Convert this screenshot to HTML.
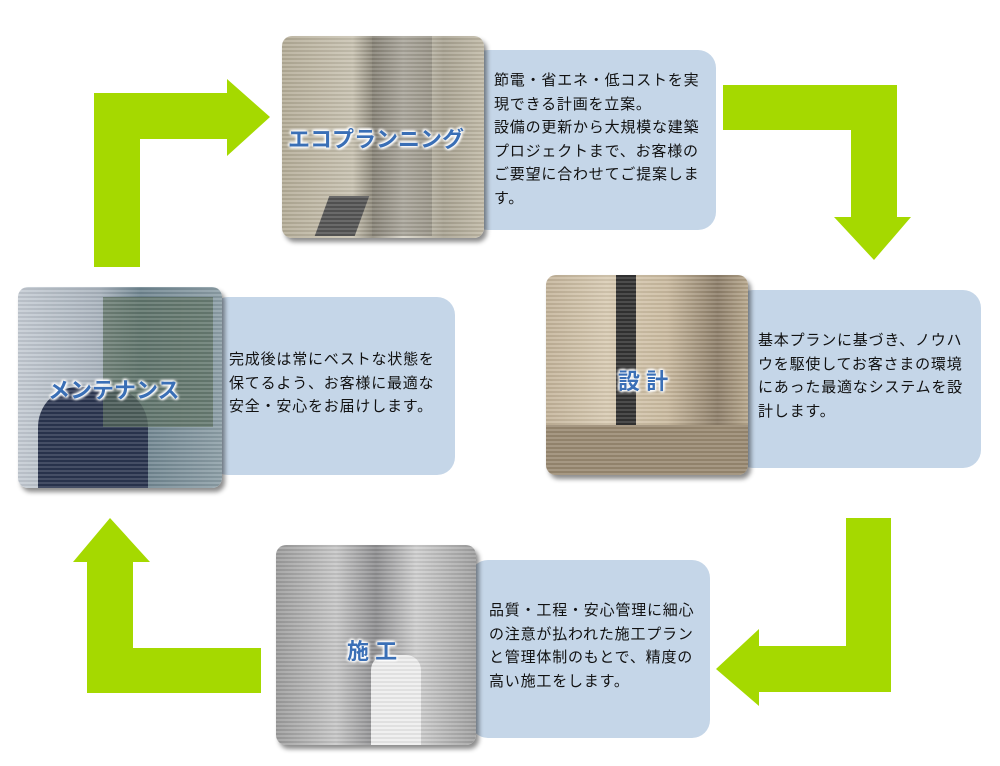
<!DOCTYPE html>
<html><head><meta charset="utf-8"><style>
body{margin:0;width:1000px;height:766px;background:#fff;position:relative;overflow:hidden;font-family:"Liberation Sans","Noto Sans CJK JP",sans-serif}
.box{position:absolute;background:#c5d6e8;border-radius:18px;}
.txt{position:absolute;font-size:15px;line-height:23.5px;color:#111;letter-spacing:0.8px;white-space:nowrap}
.ph{position:absolute;border-radius:10px;box-shadow:3px 4px 5px rgba(0,0,0,.45);overflow:hidden}
.ph::after{content:"";position:absolute;inset:0;background:repeating-linear-gradient(0deg,rgba(255,255,255,.12) 0 2px,rgba(0,0,0,.06) 2px 4px)}
.lab{position:absolute;font-size:22px;font-weight:bold;color:#3a6fb6;text-shadow:0 0 3px #fff,0 0 3px #fff,0 0 4px #fff,1px 1px 2px #fff,-1px -1px 2px #fff;z-index:3;white-space:nowrap}
svg{position:absolute;left:0;top:0}
</style></head><body>
<svg width="1000" height="766">
<g fill="#a5d900">
<polygon points="94,267 140,267 140,139 227,139 227,156 270,117 227,79 227,93 94,93"/>
<polygon points="723,85 897,85 897,217 911,217 874,260 834,217 851,217 851,130 723,130"/>
<polygon points="846,518 891,518 891,692 759,692 759,706 716,669 759,629 759,646 846,646"/>
<polygon points="87,693 261,693 261,648 133,648 133,562 150,562 110,518 73,562 87,562"/>
</g></svg>

<div class="box" style="left:470px;top:50px;width:246px;height:180px"></div>
<div class="ph" style="left:282px;top:36px;width:202px;height:202px;background:linear-gradient(90deg,#b5ad98 0,#c9c3b2 35%,#8f8a7c 45%,#d8d4c8 60%,#a9a392 80%,#c2bba8 100%)">
<div style="position:absolute;left:90px;top:0;width:60px;height:200px;background:#7d7a70;opacity:.5"></div>
<div style="position:absolute;left:40px;top:160px;width:40px;height:40px;background:#555;transform:skewX(-20deg)"></div></div>
<div class="lab" style="left:288px;top:122px">エコプランニング</div>
<div class="txt" style="left:494px;top:69px">節電・省エネ・低コストを実<br>現できる計画を立案。<br>設備の更新から大規模な建築<br>プロジェクトまで、お客様の<br>ご要望に合わせてご提案しま<br>す。</div>

<div class="box" style="left:735px;top:290px;width:246px;height:178px"></div>
<div class="ph" style="left:546px;top:275px;width:202px;height:200px;background:linear-gradient(90deg,#c4b49a 0,#d9ccb4 30%,#cbbba0 60%,#8e7f6a 85%,#b8a88d 100%)">
<div style="position:absolute;left:70px;top:0;width:20px;height:200px;background:#333"></div>
<div style="position:absolute;left:0;top:150px;width:202px;height:50px;background:#9a8a72"></div></div>
<div class="lab" style="left:618px;top:364px">設 計</div>
<div class="txt" style="left:758px;top:329px">基本プランに基づき、ノウハ<br>ウを駆使してお客さまの環境<br>にあった最適なシステムを設<br>計します。</div>

<div class="box" style="left:470px;top:560px;width:240px;height:178px"></div>
<div class="ph" style="left:276px;top:545px;width:200px;height:200px;background:linear-gradient(90deg,#9c9c9c 0,#c8c8c8 30%,#8e8e90 50%,#d0d0d0 70%,#a0a0a0 100%)">
<div style="position:absolute;left:95px;top:110px;width:50px;height:90px;background:#eee;border-radius:15px 15px 0 0"></div></div>
<div class="lab" style="left:347px;top:634px">施 工</div>
<div class="txt" style="left:489px;top:599px">品質・工程・安心管理に細心<br>の注意が払われた施工プラン<br>と管理体制のもとで、精度の<br>高い施工をします。</div>

<div class="box" style="left:210px;top:297px;width:245px;height:178px"></div>
<div class="ph" style="left:18px;top:287px;width:204px;height:201px;background:linear-gradient(90deg,#c5ccd4 0,#aab4be 40%,#6f8590 60%,#8ea0a8 100%)">
<div style="position:absolute;left:20px;top:100px;width:110px;height:101px;background:#2b3550;border-radius:40px 40px 0 0"></div>
<div style="position:absolute;left:85px;top:10px;width:110px;height:130px;background:#5a6e5c;opacity:.7"></div></div>
<div class="lab" style="left:48px;top:373px">メンテナンス</div>
<div class="txt" style="left:229px;top:348px">完成後は常にベストな状態を<br>保てるよう、お客様に最適な<br>安全・安心をお届けします。</div>
</body></html>
